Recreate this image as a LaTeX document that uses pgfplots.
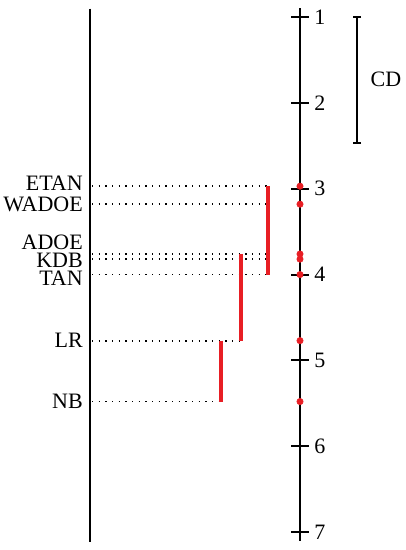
\documentclass[border=0pt]{standalone}
\usepackage{pgfplots}
\pgfplotsset{compat=1.18}
\usepackage{fontspec}
\setmainfont{Liberation Serif}
\definecolor{cdred}{RGB}{232,30,36}

\begin{document}
\begin{tikzpicture}
\begin{axis}[
  % x in pixels of the original, y in average rank (1 at top)
  width=304.5pt, height=412.5pt, scale only axis,
  xmin=0, xmax=406, ymin=0.80, ymax=7.21, y dir=reverse,
  hide axis, clip=false,
  every node near coord/.append style={font=\fontsize{16.5}{17}\selectfont, text=black, inner sep=0pt},
]
\path (rel axis cs:0,0) rectangle (rel axis cs:1,1);
% left frame line
\addplot[black, line width=1.5pt] coordinates {(90,0.9) (90,7.12)};
% rank axis
\addplot[black, line width=1.5pt] coordinates {(300,0.9) (300,7.1)};
\addplot[only marks, mark=+, mark size=6.5pt, black, mark options={line width=1.6pt}]
  coordinates {(300,1) (300,2) (300,3) (300,4) (300,5) (300,6) (300,7)};
\addplot[draw=none, mark=none, nodes near coords, point meta=explicit symbolic,
         every node near coord/.append style={anchor=west}]
  coordinates {(314,1) [1] (314,2) [2] (314,3) [3] (314,4) [4] (314,5) [5] (314,6) [6] (314,7) [7]};

% dotted leaders
\addplot[black, line width=1.3pt, dash pattern=on 1pt off 4pt] coordinates {(92,2.97) (267,2.97)};
\addplot[black, line width=1.3pt, dash pattern=on 1pt off 4pt] coordinates {(92,3.18) (267,3.18)};
\addplot[black, line width=1.3pt, dash pattern=on 1pt off 4pt] coordinates {(92,3.76) (267,3.76)};
\addplot[black, line width=1.3pt, dash pattern=on 1pt off 4pt] coordinates {(92,3.82) (267,3.82)};
\addplot[black, line width=1.3pt, dash pattern=on 1pt off 4pt] coordinates {(92,4.00) (267,4.00)};
\addplot[black, line width=1.3pt, dash pattern=on 1pt off 4pt] coordinates {(92,4.77) (240,4.77)};
\addplot[black, line width=1.3pt, dash pattern=on 1pt off 4pt] coordinates {(92,5.48) (220,5.48)};

% groups not significantly different
\addplot[cdred, line width=2.4pt] coordinates {(268,2.97) (268,4.00)};
\addplot[cdred, line width=2.4pt] coordinates {(241,3.76) (241,4.77)};
\addplot[cdred, line width=2.4pt] coordinates {(221,4.77) (221,5.48)};

% average ranks
\addplot[only marks, mark=*, mark size=2.4pt, cdred]
  coordinates {(300,2.97) (300,3.18) (300,3.76) (300,3.82) (300,4.00) (300,4.77) (300,5.48)};

% method names
\addplot[draw=none, mark=none, nodes near coords, point meta=explicit symbolic,
         every node near coord/.append style={anchor=east}]
  coordinates {(83,2.94) [ETAN] (83,3.18) [WADOE] (83,3.62) [ADOE] (83,3.83) [KDB]
               (83,4.04) [TAN] (83,4.77) [LR] (83,5.48) [NB]};

% critical difference
\addplot[black, line width=1.5pt, mark=-, mark size=3pt] coordinates {(357,1) (357,2.47)};
\addplot[draw=none, mark=none, nodes near coords, point meta=explicit symbolic,
         every node near coord/.append style={anchor=center}]
  coordinates {(386,1.73) [CD]};
\end{axis}
\end{tikzpicture}
\end{document}
